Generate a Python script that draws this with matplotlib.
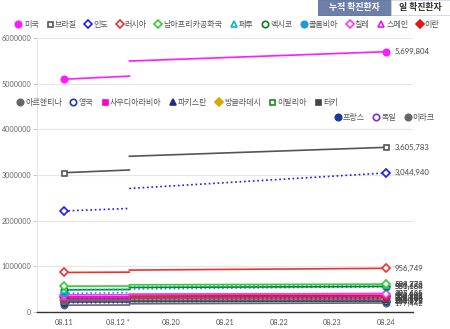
import matplotlib
matplotlib.use("Agg")
import matplotlib.pyplot as plt
from matplotlib.lines import Line2D
from matplotlib.patches import Rectangle

plt.rcParams['font.family'] = ['Lato', 'Noto Sans CJK KR', 'DejaVu Sans']

# x-axis categories (the chart breaks after 08.12)
dates = ["08.11", "08.12 *", "08.20", "08.21", "08.22", "08.23", "08.24"]

countries = ["미국", "브라질", "인도", "러시아", "남아프리카공화국", "페루", "멕시코",
             "콜롬비아", "칠레", "스페인", "이란",
             "아르헨티나", "영국", "사우디아라비아", "파키스탄", "방글라데시", "이탈리아", "터키",
             "프랑스", "독일", "이라크"]

# cumulative confirmed cases
cases_0811 = [5097000, 3050000, 2212000, 866000, 566000, 490000, 486000,
              411000, 377000, 327000, 331000,
              261000, 313000, 291000, 285000, 264000, 251000, 244000,
              203000, 218000, 150000]
cases_0812 = [5165000, 3110000, 2268000, 873000, 568000, 498000, 492000,
              422000, 378000, 330000, 333000,
              268000, 314000, 293000, 285000, 267000, 252000, 245000,
              206000, 219000, 153000]
cases_0819 = [5495000, 3410000, 2705000, 918000, 596000, 558000, 537000,
              503000, 391000, 384000, 350000,
              321000, 322000, 303000, 290000, 285000, 256000, 254000,
              226000, 228000, 180000]
cases_0824 = [5699804, 3605783, 3044940, 956749, 609773, 594326, 560164,
              551688, 397665, 405436, 358905,
              350867, 326614, 307479, 292765, 294598, 260298, 259692,
              242899, 236122, 197442]

colors = ["#ff1aff", "#555555", "#1a1aff", "#f03030", "#33cc33", "#12b5c8", "#0a7d1e",
          "#1e9ad6", "#ff33ff", "#e61ae6", "#ee1111",
          "#666666", "#1f3c9e", "#ff00cc", "#1a2e8c", "#d4aa00", "#1a8a1a", "#444444",
          "#163a9c", "#7b2fd0", "#666666"]
markers = ["o", "s", "D", "D", "D", "^", "o", "o", "D", "^", "D",
           "o", "o", "s", "^", "D", "s", "s", "o", "o", "o"]
filled = [True, False, False, False, False, False, False, True, False, False, True,
          True, False, True, True, True, False, True, True, False, True]
styles = ["-", "-", ":", "-", "-", ":", "-", ":", "-", "-", "-",
          "-", ":", "-", ":", "-", "-", "-", ":", "-", "-"]
marker_size = {"o": 4.6, "s": 3.6, "D": 3.8, "^": 4.2}

BREAK_X = 1.22
LAST_X = len(dates) - 1

fig = plt.figure(figsize=(4.5, 3.29), dpi=100)
ax = fig.add_axes([37 / 450, 1 - 312 / 329, 376 / 450, 274 / 329])

order = list(range(len(countries)))[::-1]
for i in order:
    c = colors[i]
    fc = c if filled[i] else "white"
    ms = marker_size[markers[i]]
    ax.plot([0, BREAK_X], [cases_0811[i], cases_0812[i]], color=c, lw=1.2,
            ls=styles[i], zorder=3)
    ax.plot([BREAK_X, LAST_X], [cases_0819[i], cases_0824[i]], color=c, lw=1.2,
            ls=styles[i], zorder=3)
    ax.plot([0], [cases_0811[i]], marker=markers[i], ms=ms, mfc=fc, mec=c, mew=1.2,
            zorder=4, ls="none")
    ax.plot([LAST_X], [cases_0824[i]], marker=markers[i], ms=ms, mfc=fc, mec=c, mew=1.2,
            zorder=4, ls="none")
    ax.annotate(f"{cases_0824[i]:,}", (LAST_X, cases_0824[i]), xytext=(6, 0),
                textcoords="offset points", va="center", ha="left",
                fontsize=5.6, color="#444444", annotation_clip=False)

ax.set_xlim(-0.5, 6.5)
ax.set_ylim(0, 6000000)
ax.set_yticks(range(0, 6000001, 1000000))
ax.set_yticklabels([str(v) for v in range(0, 6000001, 1000000)])
ax.set_xticks(range(len(dates)))
ax.set_xticklabels(dates)
ax.tick_params(axis="y", labelsize=5.2, colors="#666666", length=3, width=0.6,
               pad=1, color="#bbbbbb")
ax.tick_params(axis="x", labelsize=5.2, colors="#555555", length=0, pad=5)
ax.grid(axis="y", color="#e6e6e6", lw=0.8)
ax.set_axisbelow(True)
for s in ["top", "right"]:
    ax.spines[s].set_visible(False)
ax.spines["left"].set_color("#e6e6e6")
ax.spines["left"].set_linewidth(0.8)
ax.spines["bottom"].set_color("#333333")
ax.spines["bottom"].set_linewidth(1.0)


def handle(i):
    c = colors[i]
    ms = marker_size[markers[i]]
    return Line2D([], [], ls="none", marker=markers[i], ms=ms, mec=c, mew=1.2,
                  mfc=c if filled[i] else "white")


legend_kw = dict(frameon=False, fontsize=5.8, handletextpad=0.15, columnspacing=0.9,
                 borderpad=0, handlelength=1.0, labelcolor="#555555")
rows = [range(0, 11), range(11, 18), range(18, 21)]
fig.legend([handle(i) for i in rows[0]], [countries[i] for i in rows[0]], ncol=11,
           loc="center", bbox_to_anchor=(227 / 450, 1 - 24 / 329), **legend_kw)
fig.legend([handle(i) for i in rows[1]], [countries[i] for i in rows[1]], ncol=7,
           loc="center left", bbox_to_anchor=(12 / 450, 1 - 102 / 329), **legend_kw)
fig.legend([handle(i) for i in rows[2]], [countries[i] for i in rows[2]], ncol=3,
           loc="center right", bbox_to_anchor=(439 / 450, 1 - 117 / 329), **legend_kw)

# toggle buttons in the top-right corner
fig.patches.append(Rectangle((318 / 450, 1 - 15 / 329), 73 / 450, 15 / 329,
                             transform=fig.transFigure, facecolor="#6e80aa",
                             edgecolor="#5a6d96", lw=0.6))
fig.patches.append(Rectangle((391 / 450, 1 - 15 / 329), 59 / 450, 15 / 329,
                             transform=fig.transFigure, facecolor="white",
                             edgecolor="#cfd5e2", lw=0.6))
fig.text(354.5 / 450, 1 - 7.5 / 329, "누적 확진환자", ha="center", va="center",
         fontsize=6.4, color="white", family=["Noto Sans CJK KR"], weight="bold")
fig.text(420.5 / 450, 1 - 7.5 / 329, "일 확진환자", ha="center", va="center",
         fontsize=6.4, color="#333333", family=["Noto Sans CJK KR"], weight="bold")

fig.savefig("out.png", dpi=100)
